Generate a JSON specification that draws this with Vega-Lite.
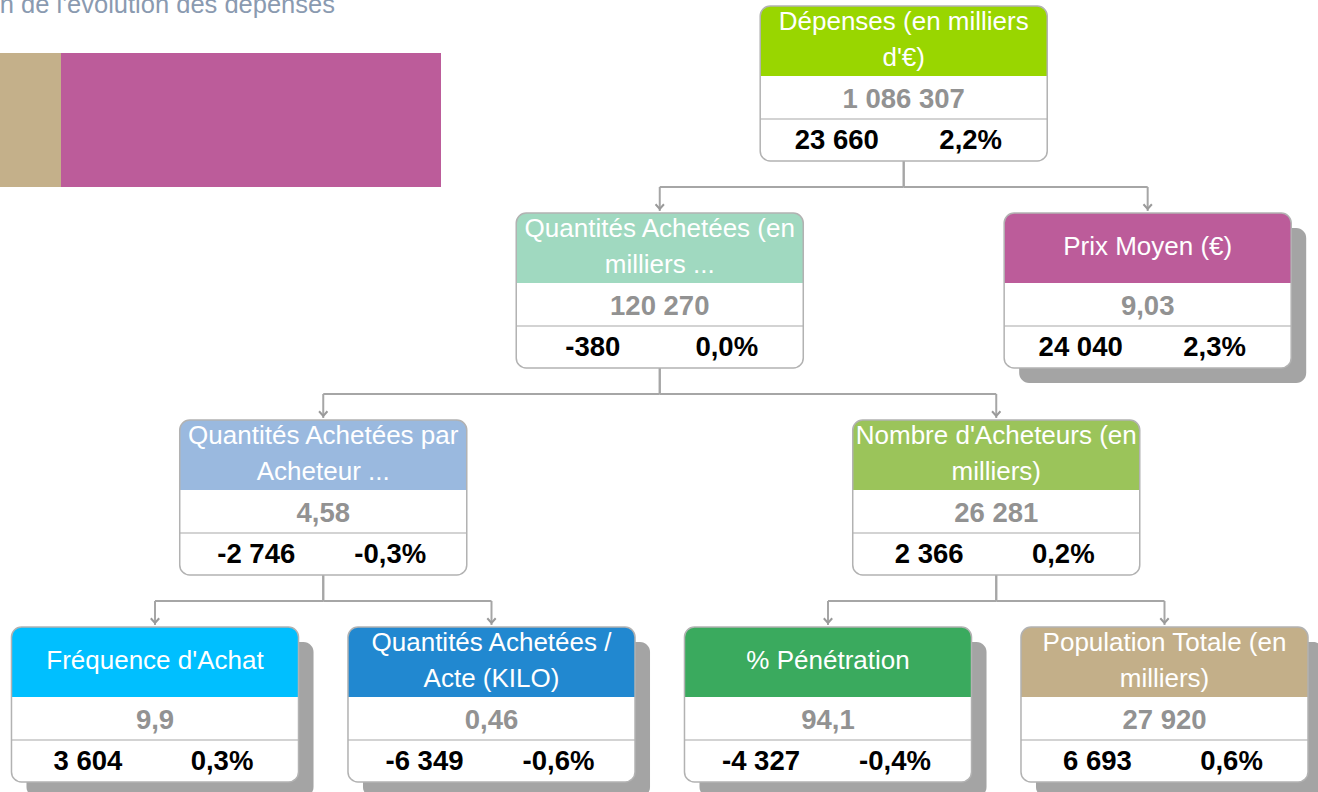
{
  "$schema": "https://vega.github.io/schema/vega-lite/v6.json",
  "width": 1318,
  "height": 792,
  "autosize": {"type": "none"},
  "padding": 0,
  "background": "white",
  "config": {"view": {"stroke": null}},
  "datasets": {
    "nodes": [
      {"label": "Dépenses (en milliers\nd'€)", "level": 1, "slot": 2.225, "value": "1 086 307", "delta": "23 660", "pct": "2,2%", "leaf": false},
      {"label": "Quantités Achetées (en\nmilliers ...", "level": 2, "slot": 1.5, "value": "120 270", "delta": "-380", "pct": "0,0%", "leaf": false},
      {"label": "Prix Moyen (€)", "level": 2, "slot": 2.95, "value": "9,03", "delta": "24 040", "pct": "2,3%", "leaf": true},
      {"label": "Quantités Achetées par\nAcheteur ...", "level": 3, "slot": 0.5, "value": "4,58", "delta": "-2 746", "pct": "-0,3%", "leaf": false},
      {"label": "Nombre d'Acheteurs (en\nmilliers)", "level": 3, "slot": 2.5, "value": "26 281", "delta": "2 366", "pct": "0,2%", "leaf": false},
      {"label": "Fréquence d'Achat", "level": 4, "slot": 0, "value": "9,9", "delta": "3 604", "pct": "0,3%", "leaf": true},
      {"label": "Quantités Achetées /\nActe (KILO)", "level": 4, "slot": 1, "value": "0,46", "delta": "-6 349", "pct": "-0,6%", "leaf": true},
      {"label": "% Pénétration", "level": 4, "slot": 2, "value": "94,1", "delta": "-4 327", "pct": "-0,4%", "leaf": true},
      {"label": "Population Totale (en\nmilliers)", "level": 4, "slot": 3, "value": "27 920", "delta": "6 693", "pct": "0,6%", "leaf": true}
    ],
    "edges": [
      {"parent_level": 1, "from_slot": 2.225, "to_slot": 1.5},
      {"parent_level": 1, "from_slot": 2.225, "to_slot": 2.95},
      {"parent_level": 2, "from_slot": 1.5, "to_slot": 0.5},
      {"parent_level": 2, "from_slot": 1.5, "to_slot": 2.5},
      {"parent_level": 3, "from_slot": 0.5, "to_slot": 0},
      {"parent_level": 3, "from_slot": 0.5, "to_slot": 1},
      {"parent_level": 3, "from_slot": 2.5, "to_slot": 2},
      {"parent_level": 3, "from_slot": 2.5, "to_slot": 3}
    ],
    "bar": [
      {"segment": "Population Totale", "start": 0, "end": 6693},
      {"segment": "Prix Moyen", "start": 6693, "end": 30733}
    ]
  },
  "layer": [
    {
      "layer": [
        {
          "data": {"name": "nodes"},
          "transform": [
            {"filter": "datum.leaf"},
            {"calculate": "datum.slot - 0.4265 + 0.0446", "as": "xa"},
            {"calculate": "datum.slot + 0.4265 + 0.0446", "as": "xb"},
            {"calculate": "datum.level + 0.0725", "as": "ya"},
            {"calculate": "datum.level + 0.7488 + 0.0725", "as": "yb"}
          ],
          "mark": {"type": "rect", "cornerRadius": 10, "fill": "#a4a4a4"},
          "encoding": {
            "x": {"field": "xa", "type": "quantitative", "scale": {"domain": [-0.46062, 3.45617], "nice": false, "zero": false}, "axis": null},
            "x2": {"field": "xb"},
            "y": {"field": "ya", "type": "quantitative", "scale": {"domain": [0.97101, 4.7971], "reverse": true, "nice": false, "zero": false}, "axis": null},
            "y2": {"field": "yb"}
          }
        },
        {
          "data": {"name": "edges"},
          "transform": [
            {"calculate": "datum.parent_level + 0.7488", "as": "ya"},
            {"calculate": "datum.parent_level + 0.8744", "as": "yb"}
          ],
          "mark": {"type": "rule", "stroke": "#a6a6a6", "strokeWidth": 2},
          "encoding": {
            "x": {"field": "from_slot", "type": "quantitative", "scale": {"domain": [-0.46062, 3.45617], "nice": false, "zero": false}, "axis": null},
            "y": {"field": "ya", "type": "quantitative", "scale": {"domain": [0.97101, 4.7971], "reverse": true, "nice": false, "zero": false}, "axis": null},
            "y2": {"field": "yb"}
          }
        },
        {
          "data": {"name": "edges"},
          "transform": [
            {"calculate": "datum.parent_level + 0.8744", "as": "ya"}
          ],
          "mark": {"type": "rule", "stroke": "#a6a6a6", "strokeWidth": 2},
          "encoding": {
            "x": {"field": "from_slot", "type": "quantitative", "scale": {"domain": [-0.46062, 3.45617], "nice": false, "zero": false}, "axis": null},
            "x2": {"field": "to_slot"},
            "y": {"field": "ya", "type": "quantitative", "scale": {"domain": [0.97101, 4.7971], "reverse": true, "nice": false, "zero": false}, "axis": null}
          }
        },
        {
          "data": {"name": "edges"},
          "transform": [
            {"calculate": "datum.parent_level + 0.8744", "as": "ya"},
            {"calculate": "datum.parent_level + 1 - 0.0097", "as": "yb"}
          ],
          "mark": {"type": "rule", "stroke": "#a6a6a6", "strokeWidth": 2},
          "encoding": {
            "x": {"field": "to_slot", "type": "quantitative", "scale": {"domain": [-0.46062, 3.45617], "nice": false, "zero": false}, "axis": null},
            "y": {"field": "ya", "type": "quantitative", "scale": {"domain": [0.97101, 4.7971], "reverse": true, "nice": false, "zero": false}, "axis": null},
            "y2": {"field": "yb"}
          }
        },
        {
          "data": {"name": "edges"},
          "transform": [
            {"calculate": "datum.parent_level + 1 - 0.0193", "as": "ya"}
          ],
          "mark": {"type": "point", "shape": "M-0.8,-0.9L0,0L0.8,-0.9", "filled": false, "stroke": "#9a9a9a", "strokeWidth": 2, "size": 110, "opacity": 1},
          "encoding": {
            "x": {"field": "to_slot", "type": "quantitative", "scale": {"domain": [-0.46062, 3.45617], "nice": false, "zero": false}, "axis": null},
            "y": {"field": "ya", "type": "quantitative", "scale": {"domain": [0.97101, 4.7971], "reverse": true, "nice": false, "zero": false}, "axis": null}
          }
        },
        {
          "data": {"name": "nodes"},
          "transform": [
            {"calculate": "datum.slot - 0.4265", "as": "xa"},
            {"calculate": "datum.slot + 0.4265", "as": "xb"},
            {"calculate": "datum.level", "as": "ya"},
            {"calculate": "datum.level + 0.7488", "as": "yb"}
          ],
          "mark": {"type": "rect", "cornerRadius": 10, "fill": "white"},
          "encoding": {
            "x": {"field": "xa", "type": "quantitative", "scale": {"domain": [-0.46062, 3.45617], "nice": false, "zero": false}, "axis": null},
            "x2": {"field": "xb"},
            "y": {"field": "ya", "type": "quantitative", "scale": {"domain": [0.97101, 4.7971], "reverse": true, "nice": false, "zero": false}, "axis": null},
            "y2": {"field": "yb"}
          }
        },
        {
          "data": {"name": "nodes"},
          "transform": [
            {"calculate": "datum.slot - 0.4265", "as": "xa"},
            {"calculate": "datum.slot + 0.4265", "as": "xb"},
            {"calculate": "datum.level", "as": "ya"},
            {"calculate": "datum.level + 0.3382", "as": "yb"}
          ],
          "mark": {"type": "rect", "cornerRadiusTopLeft": 10, "cornerRadiusTopRight": 10, "opacity": 1},
          "encoding": {
            "x": {"field": "xa", "type": "quantitative", "scale": {"domain": [-0.46062, 3.45617], "nice": false, "zero": false}, "axis": null},
            "x2": {"field": "xb"},
            "y": {"field": "ya", "type": "quantitative", "scale": {"domain": [0.97101, 4.7971], "reverse": true, "nice": false, "zero": false}, "axis": null},
            "y2": {"field": "yb"},
            "color": {
              "field": "label",
              "type": "nominal",
              "legend": null,
              "scale": {
                "domain": ["Dépenses (en milliers\nd'€)", "Quantités Achetées (en\nmilliers ...", "Prix Moyen (€)", "Quantités Achetées par\nAcheteur ...", "Nombre d'Acheteurs (en\nmilliers)", "Fréquence d'Achat", "Quantités Achetées /\nActe (KILO)", "% Pénétration", "Population Totale (en\nmilliers)"],
                "range": ["#99d600", "#a0d9c0", "#bc5c9a", "#9ab9df", "#9bc45a", "#00bfff", "#2188d0", "#3aaa5e", "#c3af89"]
              }
            }
          }
        },
        {
          "data": {"name": "nodes"},
          "transform": [
            {"calculate": "datum.slot - 0.4265", "as": "xa"},
            {"calculate": "datum.slot + 0.4265", "as": "xb"},
            {"calculate": "datum.level + 0.5459", "as": "ya"}
          ],
          "mark": {"type": "rule", "stroke": "#c4c4c4", "strokeWidth": 1.5},
          "encoding": {
            "x": {"field": "xa", "type": "quantitative", "scale": {"domain": [-0.46062, 3.45617], "nice": false, "zero": false}, "axis": null},
            "x2": {"field": "xb"},
            "y": {"field": "ya", "type": "quantitative", "scale": {"domain": [0.97101, 4.7971], "reverse": true, "nice": false, "zero": false}, "axis": null}
          }
        },
        {
          "data": {"name": "nodes"},
          "transform": [
            {"calculate": "datum.slot - 0.4265", "as": "xa"},
            {"calculate": "datum.slot + 0.4265", "as": "xb"},
            {"calculate": "datum.level", "as": "ya"},
            {"calculate": "datum.level + 0.7488", "as": "yb"}
          ],
          "mark": {"type": "rect", "cornerRadius": 10, "fill": "white", "fillOpacity": 0, "stroke": "#b2b2b2", "strokeWidth": 1.5},
          "encoding": {
            "x": {"field": "xa", "type": "quantitative", "scale": {"domain": [-0.46062, 3.45617], "nice": false, "zero": false}, "axis": null},
            "x2": {"field": "xb"},
            "y": {"field": "ya", "type": "quantitative", "scale": {"domain": [0.97101, 4.7971], "reverse": true, "nice": false, "zero": false}, "axis": null},
            "y2": {"field": "yb"}
          }
        },
        {
          "data": {"name": "nodes"},
          "transform": [
            {"calculate": "datum.level + (indexof(datum.label, '\\n') >= 0 ? 16 : 34) / 207", "as": "ya"}
          ],
          "mark": {"type": "text", "font": "Liberation Sans", "fontSize": 26, "color": "white", "align": "center", "baseline": "middle", "lineBreak": "\n", "lineHeight": 36},
          "encoding": {
            "x": {"field": "slot", "type": "quantitative", "scale": {"domain": [-0.46062, 3.45617], "nice": false, "zero": false}, "axis": null},
            "y": {"field": "ya", "type": "quantitative", "scale": {"domain": [0.97101, 4.7971], "reverse": true, "nice": false, "zero": false}, "axis": null},
            "text": {"field": "label"}
          }
        },
        {
          "data": {"name": "nodes"},
          "transform": [
            {"calculate": "datum.level + 0.4541", "as": "ya"}
          ],
          "mark": {"type": "text", "font": "Liberation Sans", "fontSize": 27.5, "fontWeight": "bold", "color": "#929292", "align": "center", "baseline": "middle"},
          "encoding": {
            "x": {"field": "slot", "type": "quantitative", "scale": {"domain": [-0.46062, 3.45617], "nice": false, "zero": false}, "axis": null},
            "y": {"field": "ya", "type": "quantitative", "scale": {"domain": [0.97101, 4.7971], "reverse": true, "nice": false, "zero": false}, "axis": null},
            "text": {"field": "value"}
          }
        },
        {
          "data": {"name": "nodes"},
          "transform": [
            {"calculate": "datum.slot - 0.1991", "as": "xa"},
            {"calculate": "datum.level + 0.6522", "as": "ya"}
          ],
          "mark": {"type": "text", "font": "Liberation Sans", "fontSize": 27.5, "fontWeight": "bold", "color": "#000000", "align": "center", "baseline": "middle"},
          "encoding": {
            "x": {"field": "xa", "type": "quantitative", "scale": {"domain": [-0.46062, 3.45617], "nice": false, "zero": false}, "axis": null},
            "y": {"field": "ya", "type": "quantitative", "scale": {"domain": [0.97101, 4.7971], "reverse": true, "nice": false, "zero": false}, "axis": null},
            "text": {"field": "delta"}
          }
        },
        {
          "data": {"name": "nodes"},
          "transform": [
            {"calculate": "datum.slot + 0.1991", "as": "xa"},
            {"calculate": "datum.level + 0.6522", "as": "ya"}
          ],
          "mark": {"type": "text", "font": "Liberation Sans", "fontSize": 27.5, "fontWeight": "bold", "color": "#000000", "align": "center", "baseline": "middle"},
          "encoding": {
            "x": {"field": "xa", "type": "quantitative", "scale": {"domain": [-0.46062, 3.45617], "nice": false, "zero": false}, "axis": null},
            "y": {"field": "ya", "type": "quantitative", "scale": {"domain": [0.97101, 4.7971], "reverse": true, "nice": false, "zero": false}, "axis": null},
            "text": {"field": "pct"}
          }
        },
        {
          "data": {"values": [{"title": "Décomposition de l'évolution des dépenses"}]},
          "mark": {"type": "text", "font": "Liberation Sans", "fontSize": 25.5, "color": "#8a9ab0", "align": "right", "baseline": "alphabetic"},
          "encoding": {
            "x": {"datum": 0.5349, "type": "quantitative", "scale": {"domain": [-0.46062, 3.45617], "nice": false, "zero": false}, "axis": null},
            "y": {"datum": 1.0338, "type": "quantitative", "scale": {"domain": [0.97101, 4.7971], "reverse": true, "nice": false, "zero": false}, "axis": null},
            "text": {"field": "title"}
          }
        }
      ]
    },
    {
      "data": {"name": "bar"},
      "mark": {"type": "rect", "clip": true},
      "encoding": {
        "x": {"field": "start", "type": "quantitative", "scale": {"domain": [2834, 86215], "nice": false, "zero": false}, "axis": null},
        "x2": {"field": "end"},
        "y": {"datum": 1.2271, "type": "quantitative", "scale": {"domain": [0.97101, 4.7971], "reverse": true, "nice": false, "zero": false}, "axis": null},
        "y2": {"datum": 1.8744},
        "color": {
          "field": "segment",
          "type": "nominal",
          "legend": null,
          "scale": {"domain": ["Population Totale", "Prix Moyen"], "range": ["#c4b08a", "#bc5c9a"]}
        }
      }
    }
  ],
  "resolve": {"scale": {"x": "independent", "color": "independent"}}
}
